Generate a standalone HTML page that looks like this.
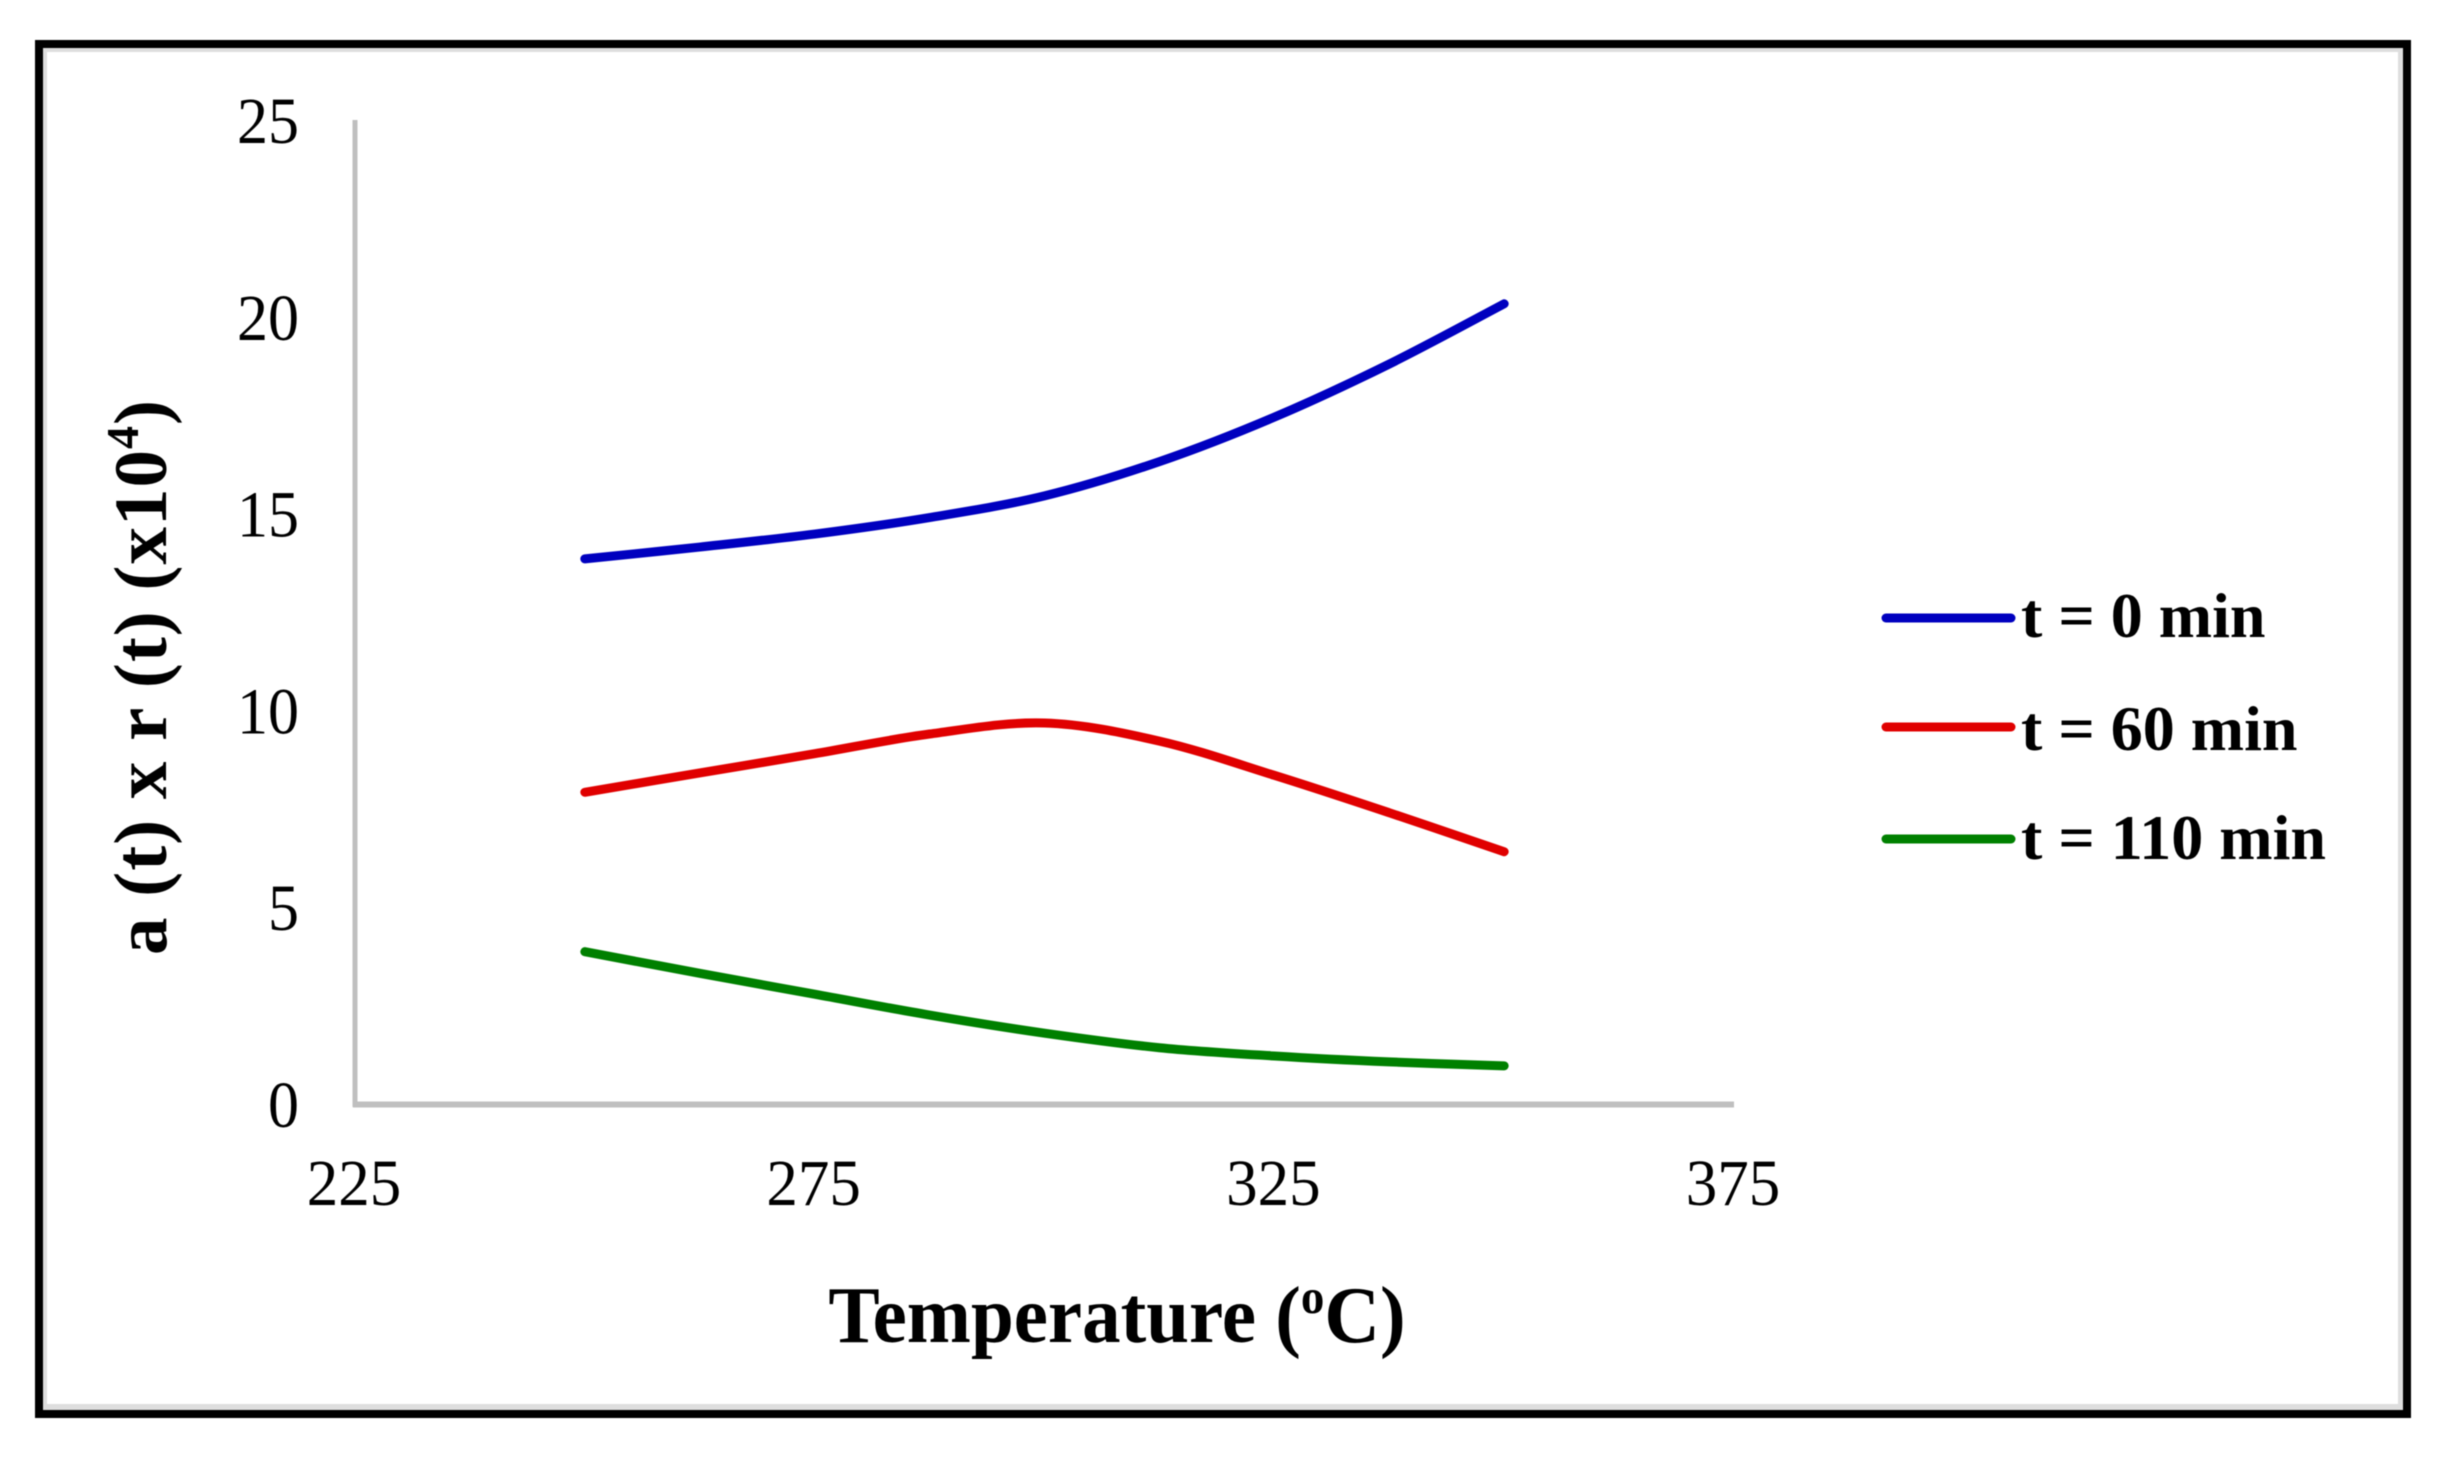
<!DOCTYPE html>
<html lang="en">
<head>
<meta charset="utf-8">
<title>a(t) x r(t) vs Temperature</title>
<style>
  html, body { margin: 0; padding: 0; background: #fff; width: 2453px; height: 1457px; overflow: hidden; }
  svg { display: block; filter: blur(0.6px); }
  text { font-family: "Liberation Serif", "Times New Roman", serif; fill: #000; }
</style>
</head>
<body>
<svg id="chart" xmlns="http://www.w3.org/2000/svg" width="2453" height="1457" viewBox="0 0 2453 1457">
  <rect x="0" y="0" width="2453" height="1457" fill="#ffffff"/>
  <rect x="35" y="40" width="2376" height="1378" fill="#000000"/>
  <rect x="43" y="48" width="2360" height="1362" fill="#dedede"/>
  <rect x="47" y="52" width="2351" height="1352" fill="#ffffff"/>
  <g id="axes"></g>
  <g id="series"></g>
  <text transform="translate(166,677) rotate(-90)" text-anchor="middle" font-size="75" font-weight="bold" letter-spacing="1">a (t) x r (t) (x10<tspan font-size="46" dy="-28">4</tspan><tspan dy="28">)</tspan></text>
  <text transform="translate(1117,1342) scale(1,1.04)" text-anchor="middle" font-size="77" font-weight="bold">Temperature (<tspan font-size="47" dy="-28">o</tspan><tspan dy="28">C)</tspan></text>
  <g id="legend"></g>
</svg>
<script>
const temperatures = [250, 262.5, 275, 287.5, 300, 312.5, 325, 337.5, 350];
const seriesT0 = [13.85, 14.15, 14.48, 14.9, 15.45, 16.32, 17.45, 18.8, 20.33];
const seriesT60 = [7.92, 8.41, 8.9, 9.4, 9.68, 9.22, 8.35, 7.4, 6.41];
const seriesT110 = [3.87, 3.32, 2.79, 2.26, 1.8, 1.43, 1.22, 1.07, 0.97];
const xTicks = [225, 275, 325, 375];
const yTicks = [0, 5, 10, 15, 20, 25];
const legendLabels = ["t = 0 min", "t = 60 min", "t = 110 min"];

const NS = "http://www.w3.org/2000/svg";
const plot = { left: 355, right: 1734, top: 120, bottom: 1104 };
const xScale = function (v) {
  return plot.left + (v - xTicks[0]) / (xTicks[xTicks.length - 1] - xTicks[0]) * (plot.right - plot.left);
};
const yScale = function (v) {
  return plot.bottom - (v - yTicks[0]) / (yTicks[yTicks.length - 1] - yTicks[0]) * (plot.bottom - plot.top);
};

function smoothPath(xs, ys) {
  const pts = xs.map(function (x, i) { return [xScale(x), yScale(ys[i])]; });
  let d = "M" + pts[0][0].toFixed(2) + " " + pts[0][1].toFixed(2);
  for (let i = 0; i < pts.length - 1; i++) {
    const p0 = pts[Math.max(i - 1, 0)];
    const p1 = pts[i];
    const p2 = pts[i + 1];
    const p3 = pts[Math.min(i + 2, pts.length - 1)];
    const c1x = p1[0] + (p2[0] - p0[0]) / 6;
    const c1y = p1[1] + (p2[1] - p0[1]) / 6;
    const c2x = p2[0] - (p3[0] - p1[0]) / 6;
    const c2y = p2[1] - (p3[1] - p1[1]) / 6;
    d += " C" + c1x.toFixed(2) + " " + c1y.toFixed(2) + " " + c2x.toFixed(2) + " " + c2y.toFixed(2) + " " + p2[0].toFixed(2) + " " + p2[1].toFixed(2);
  }
  return d;
}

const axes = document.getElementById("axes");
const seriesGroup = document.getElementById("series");
const legend = document.getElementById("legend");

const yAxis = document.createElementNS(NS, "line");


yAxis.setAttribute("x1", plot.left);
yAxis.setAttribute("x2", plot.left);
yAxis.setAttribute("y1", plot.top);
yAxis.setAttribute("y2", plot.bottom + 3);
yAxis.setAttribute("stroke", "#bfbfbf");
yAxis.setAttribute("stroke-width", "5");
axes.appendChild(yAxis);

const xAxis = document.createElementNS(NS, "line");


xAxis.setAttribute("x1", plot.left - 2);
xAxis.setAttribute("x2", plot.right);
xAxis.setAttribute("y1", plot.bottom + 0.5);
xAxis.setAttribute("y2", plot.bottom + 0.5);
xAxis.setAttribute("stroke", "#bfbfbf");
xAxis.setAttribute("stroke-width", "6");
axes.appendChild(xAxis);

yTicks.forEach(function (v) {
  const t = document.createElementNS(NS, "text");
  
  
  t.setAttribute("transform", "translate(299," + (yScale(v) + 23) + ") scale(1,1.06)");
  t.setAttribute("text-anchor", "end");
  t.setAttribute("font-size", "62");
  t.textContent = String(v);
  axes.appendChild(t);
});

xTicks.forEach(function (v) {
  const t = document.createElementNS(NS, "text");
  
  
  t.setAttribute("transform", "translate(" + (xScale(v) - 1) + ",1205) scale(1,1.05)");
  t.setAttribute("text-anchor", "middle");
  t.setAttribute("font-size", "63");
  t.textContent = String(v);
  axes.appendChild(t);
});

const colors = ["#0000bf", "#e00000", "#008000"];
const allSeries = [seriesT0, seriesT60, seriesT110];
const lineY = [618, 727, 839];
const textY = [637, 750, 859];

allSeries.forEach(function (values, i) {
  const p = document.createElementNS(NS, "path");
  
  
  p.setAttribute("d", smoothPath(temperatures, values));
  p.setAttribute("fill", "none");
  p.setAttribute("stroke", colors[i]);
  p.setAttribute("stroke-width", "9");
  p.setAttribute("stroke-linecap", "round");
  p.setAttribute("stroke-linejoin", "round");
  seriesGroup.appendChild(p);

  const key = document.createElementNS(NS, "line");
  
  
  key.setAttribute("x1", 1886);
  key.setAttribute("x2", 2011);
  key.setAttribute("y1", lineY[i]);
  key.setAttribute("y2", lineY[i]);
  key.setAttribute("stroke", colors[i]);
  key.setAttribute("stroke-width", "9");
  key.setAttribute("stroke-linecap", "round");
  legend.appendChild(key);

  const label = document.createElementNS(NS, "text");
  
  
  label.setAttribute("x", 2021);
  label.setAttribute("y", textY[i]);
  label.setAttribute("font-size", "64");
  label.setAttribute("font-weight", "bold");
  label.textContent = legendLabels[i];
  legend.appendChild(label);
});
</script>
</body>
</html>
